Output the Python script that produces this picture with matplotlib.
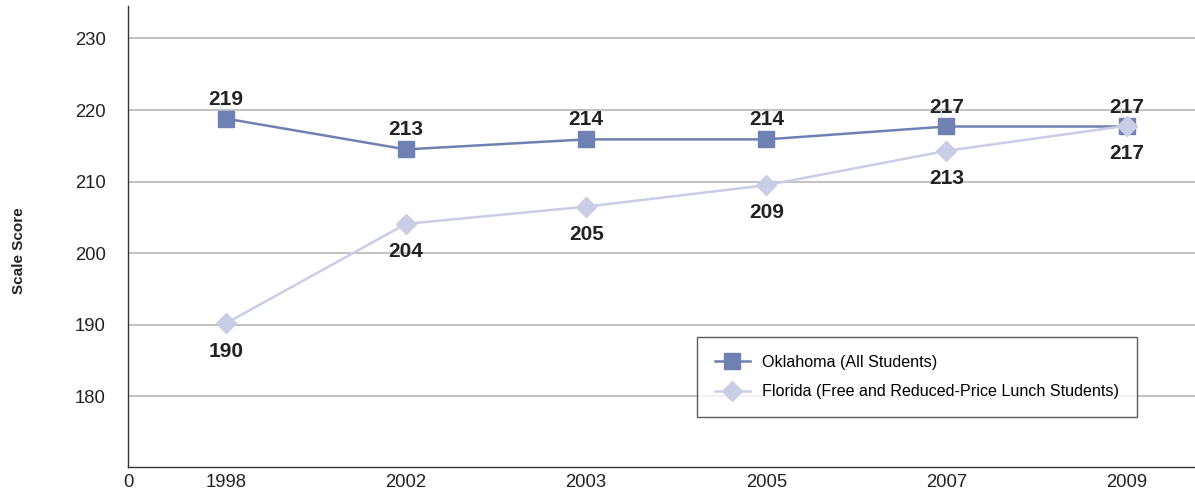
import matplotlib.pyplot as plt

# ------------- DATA -------------
YEARS = ["1998", "2002", "2003", "2005", "2007", "2009"]
OKLAHOMA = [218.8, 214.5, 215.9, 215.9, 217.7, 217.7]
OKLAHOMA_LABELS = ["219", "213", "214", "214", "217", "217"]
FLORIDA = [190.2, 204.1, 206.5, 209.5, 214.3, 217.8]
FLORIDA_LABELS = ["190", "204", "205", "209", "213", "217"]
Y_TICKS = [180, 190, 200, 210, 220, 230]
# --------------------------------

OK_COLOR = "#6f80b3"
FL_COLOR = "#c9cee6"

plt.rcParams["font.family"] = ["Liberation Sans", "DejaVu Sans"]

fig = plt.figure(figsize=(11.95, 4.91), dpi=100)
ax = fig.add_axes([0.1071, 0.0495, 0.8929, 0.9383])

x = list(range(len(YEARS)))

ax.plot(x, OKLAHOMA, color=OK_COLOR, lw=1.8, marker="s", markersize=11,
        label="Oklahoma (All Students)", zorder=3)
ax.plot(x, FLORIDA, color=FL_COLOR, lw=1.8, marker="D", markersize=10.5,
        label="Florida (Free and Reduced-Price Lunch Students)", zorder=4)

for xi, v, lab in zip(x, OKLAHOMA, OKLAHOMA_LABELS):
    ax.annotate(lab, (xi, v), xytext=(0, 14), textcoords="offset points",
                ha="center", va="center", fontsize=15, fontweight="bold",
                color="#222222")
for xi, v, lab in zip(x, FLORIDA, FLORIDA_LABELS):
    ax.annotate(lab, (xi, v), xytext=(0, -20), textcoords="offset points",
                ha="center", va="center", fontsize=15, fontweight="bold",
                color="#222222")

x_left = -0.544
ax.set_xlim(x_left, 5.38)
ax.set_ylim(170.16, 234.54)

ax.set_xticks([x_left] + x)
ax.set_xticklabels(["0"] + YEARS)
ax.set_yticks(Y_TICKS)
ax.tick_params(axis="both", length=0, labelsize=13.3, colors="#222222")
ax.tick_params(axis="y", pad=16)
ax.tick_params(axis="x", pad=5)

ax.grid(axis="y", color="#b8b8b8", lw=1.2)
ax.set_axisbelow(True)
for side in ["top", "right"]:
    ax.spines[side].set_visible(False)
for side in ["left", "bottom"]:
    ax.spines[side].set_color("#333333")
    ax.spines[side].set_linewidth(1.0)

fig.text(0.016, 0.49, "Scale Score", rotation=90, ha="center", va="center",
         fontsize=11, fontweight="bold", color="#222222")

leg = ax.legend(loc="upper left", bbox_to_anchor=(0.5333, 0.2815), fontsize=11.6,
                frameon=True, fancybox=False, borderaxespad=0, borderpad=1.1,
                labelspacing=0.9, handlelength=2.2, handletextpad=0.75)
leg.get_frame().set_edgecolor("#333333")
leg.get_frame().set_linewidth(1.0)

fig.savefig("out.png", dpi=100)
